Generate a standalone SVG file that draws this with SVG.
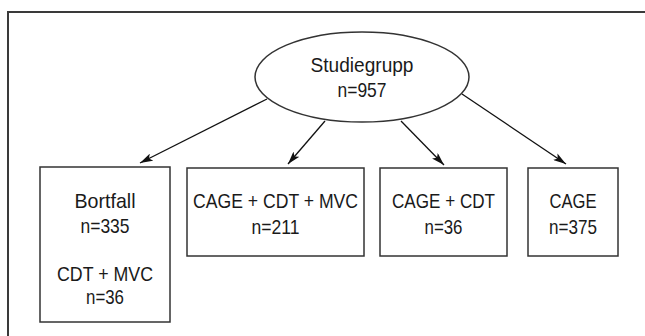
<svg xmlns="http://www.w3.org/2000/svg" width="645" height="336" viewBox="0 0 645 336">
  <style>
    .frame { fill: none; stroke: #3a3a3a; stroke-width: 2; }
    .node { fill: #ffffff; stroke: #333333; stroke-width: 1.5; }
    .edge { fill: none; stroke: #111111; stroke-width: 1.3; }
    text { font-family: "Liberation Sans", Arial, sans-serif; font-size: 21px; fill: #1a1a1a; text-anchor: middle; }
  </style>
  <defs>
    <marker id="arrow" viewBox="0 0 13 8" refX="13" refY="4" markerWidth="13" markerHeight="8" markerUnits="userSpaceOnUse" orient="auto">
      <path d="M0,0 L13,4 L0,8 L3,4 Z" fill="#111111"/>
    </marker>
  </defs>

  <rect width="645" height="336" fill="#ffffff"/>
  <!-- outer frame, open to the right and bottom -->
  <path class="frame" d="M8,340 L8,12 L650,12"/>

  <g id="connectors">
    <line class="edge" x1="267" y1="99" x2="140" y2="163" marker-end="url(#arrow)"/>
    <line class="edge" x1="325" y1="121" x2="288" y2="164" marker-end="url(#arrow)"/>
    <line class="edge" x1="401" y1="121" x2="444" y2="165" marker-end="url(#arrow)"/>
    <line class="edge" x1="462" y1="94" x2="566" y2="164" marker-end="url(#arrow)"/>
  </g>

  <g id="studiegrupp">
    <ellipse class="node" cx="362" cy="77" rx="107" ry="45"/>
    <text x="362" y="72" textLength="103" lengthAdjust="spacingAndGlyphs">Studiegrupp</text>
    <text x="362" y="97" textLength="49" lengthAdjust="spacingAndGlyphs">n=957</text>
  </g>

  <g id="bortfall">
    <rect class="node" x="40" y="167" width="130" height="155"/>
    <text x="105" y="208" textLength="61" lengthAdjust="spacingAndGlyphs">Bortfall</text>
    <text x="105" y="233" textLength="49" lengthAdjust="spacingAndGlyphs">n=335</text>
    <text x="105" y="281" textLength="96" lengthAdjust="spacingAndGlyphs">CDT + MVC</text>
    <text x="105" y="304" textLength="38" lengthAdjust="spacingAndGlyphs">n=36</text>
  </g>

  <g id="cage-cdt-mvc">
    <rect class="node" x="187" y="168" width="177" height="88"/>
    <text x="275.5" y="208" textLength="165" lengthAdjust="spacingAndGlyphs">CAGE + CDT + MVC</text>
    <text x="275.5" y="234" textLength="48" lengthAdjust="spacingAndGlyphs">n=211</text>
  </g>

  <g id="cage-cdt">
    <rect class="node" x="380" y="168" width="127" height="88"/>
    <text x="443.5" y="208" textLength="103" lengthAdjust="spacingAndGlyphs">CAGE + CDT</text>
    <text x="443.5" y="234" textLength="38" lengthAdjust="spacingAndGlyphs">n=36</text>
  </g>

  <g id="cage">
    <rect class="node" x="528" y="168" width="90" height="88"/>
    <text x="573" y="208" textLength="47" lengthAdjust="spacingAndGlyphs">CAGE</text>
    <text x="573" y="234" textLength="48" lengthAdjust="spacingAndGlyphs">n=375</text>
  </g>
</svg>
